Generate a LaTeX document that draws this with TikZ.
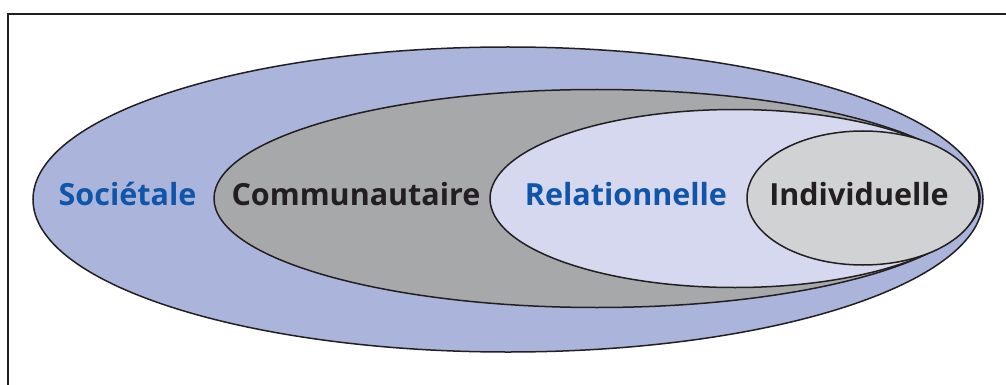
\documentclass[tikz,border=0pt]{standalone}
\usepackage{fontspec}
\setmainfont{Open Sans}
\definecolor{socblue}{HTML}{ABB5DC}
\definecolor{comgray}{HTML}{A7A8AA}
\definecolor{relblue}{HTML}{D5D8EE}
\definecolor{indgray}{HTML}{D1D2D3}
\definecolor{txtblue}{HTML}{1155A8}
\definecolor{txtdark}{HTML}{231F20}
\tikzset{
  ring/.style={draw=txtdark, line width=1.5pt},
  lbl/.style={font=\bfseries\fontsize{30.5}{36}\selectfont, anchor=base, inner sep=0pt},
}
\begin{document}
\begin{tikzpicture}[x=1pt,y=-1pt]
\useasboundingbox (0,0) rectangle (1006,385);
\draw[line width=2pt, draw=txtdark] (8,385) -- (8,14) -- (1006,14);
\filldraw[ring, fill=socblue] (508,199.5) ellipse [x radius=475, y radius=152.5];
\filldraw[ring, fill=comgray] (597,198.5) ellipse [x radius=383, y radius=109];
\filldraw[ring, fill=relblue] (735,198.5) ellipse [x radius=245, y radius=89];
\filldraw[ring, fill=indgray] (863,198) ellipse [x radius=116, y radius=67];
\node[lbl, text=txtblue] (soc) at (127.5,205.5) {Sociétale};
\node[lbl, text=txtdark] (com) at (356,205.5) {Communautaire};
\node[lbl, text=txtblue] (rel) at (626,205.5) {Relationnelle};
\node[lbl, text=txtdark] (ind) at (859,205.5) {Individuelle};
\end{tikzpicture}
\end{document}
